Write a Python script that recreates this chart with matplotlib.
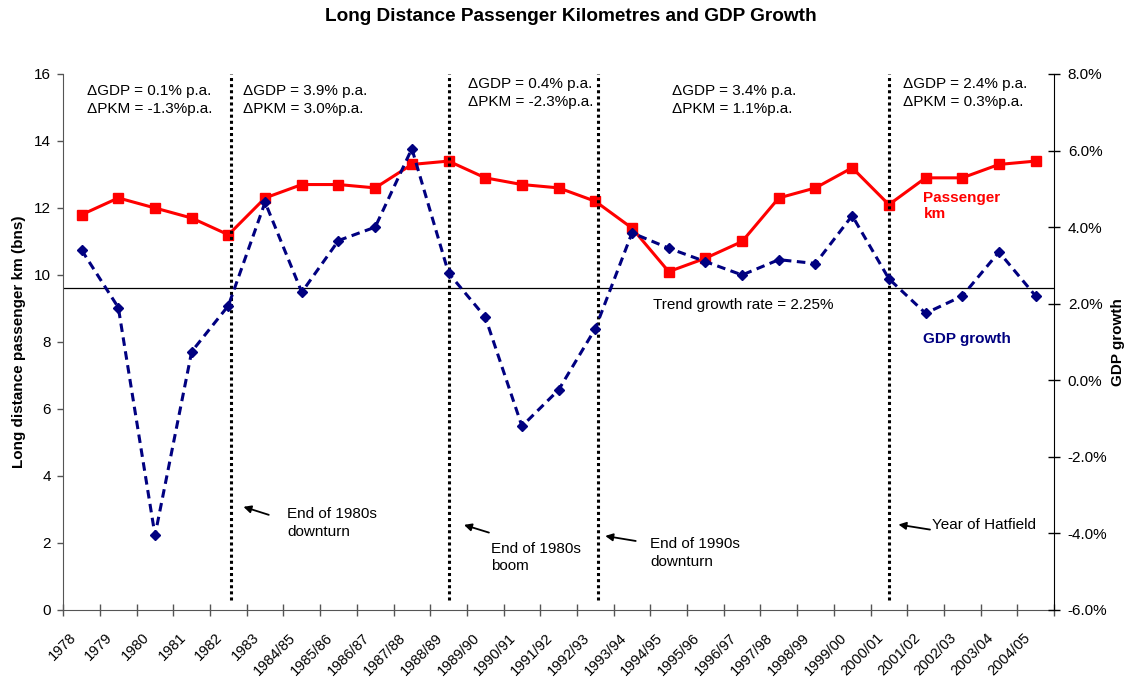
import numpy as np
import matplotlib
matplotlib.use("Agg")
import matplotlib.pyplot as plt
import matplotlib.transforms as mtransforms
from matplotlib.ticker import FuncFormatter

plt.rcParams['font.family'] = ['Liberation Sans', 'DejaVu Sans']

# data
years = ["1978", "1979", "1980", "1981", "1982", "1983", "1984/85", "1985/86",
         "1986/87", "1987/88", "1988/89", "1989/90", "1990/91", "1991/92",
         "1992/93", "1993/94", "1994/95", "1995/96", "1996/97", "1997/98",
         "1998/99", "1999/00", "2000/01", "2001/02", "2002/03", "2003/04",
         "2004/05"]
# long distance passenger km (bns), left axis
pkm = [11.8, 12.3, 12.0, 11.7, 11.2, 12.3, 12.7, 12.7, 12.6, 13.3, 13.4, 12.9,
       12.7, 12.6, 12.2, 11.4, 10.1, 10.5, 11.0, 12.3, 12.6, 13.2, 12.1, 12.9,
       12.9, 13.3, 13.4]
# GDP growth (%), right axis
gdp = [3.4, 1.9, -4.05, 0.75, 1.95, 4.65, 2.3, 3.65, 4.0, 6.05, 2.8, 1.65,
       -1.2, -0.25, 1.35, 3.85, 3.45, 3.1, 2.75, 3.15, 3.05, 4.3, 2.65, 1.75,
       2.2, 3.35, 2.2]

trend_level = 9.6          # drawn trend line (left axis units)
breaks = [4.07, 10.0, 14.07, 22.0]
period_text = [("ΔGDP = 0.1% p.a.", "ΔPKM = -1.3%p.a."),
               ("ΔGDP = 3.9% p.a.", "ΔPKM = 3.0%p.a."),
               ("ΔGDP = 0.4% p.a.", "ΔPKM = -2.3%p.a."),
               ("ΔGDP = 3.4% p.a.", "ΔPKM = 1.1%p.a."),
               ("ΔGDP = 2.4% p.a.", "ΔPKM = 0.3%p.a.")]
period_x = [0.14, 4.39, 10.53, 16.1, 22.39]
period_y = [15.22, 15.22, 15.43, 15.22, 15.43]

notes = ["End of 1980s\ndownturn", "End of 1980s\nboom",
         "End of 1990s\ndownturn", "Year of Hatfield"]
note_head = [(4.41, 3.08), (10.42, 2.54), (14.27, 2.21), (22.26, 2.55)]
note_tail = [(5.1, 2.84), (11.1, 2.31), (15.1, 2.06), (23.12, 2.40)]
note_pos = [(5.6, 2.6), (11.17, 1.57), (15.5, 1.70), (23.17, 2.53)]

x = np.arange(len(years))

fig = plt.figure(figsize=(11.32, 6.77), dpi=100)
ax = fig.add_axes([0.0559, 0.0990, 0.8752, 0.7917])
ax2 = ax.twinx()

ax.plot(x, pkm, color='#FF0000', lw=2.2, marker='s', ms=6.5, zorder=3)
ax2.plot(x, gdp, color='#000080', lw=2.2, ls=(0, (2.8, 1.8)), marker='D',
         ms=5, zorder=3)

ax.axhline(trend_level, color='black', lw=0.9, zorder=2)
ax.vlines(breaks, 0.3, 16, colors='black', lw=2.2, linestyles=(0, (1, 1)),
          zorder=4)

ax.set_xlim(-0.5, len(years) - 0.5)
ax.set_ylim(0, 16)
ax.set_yticks(np.arange(0, 17, 2))
ax2.set_ylim(-6, 8)
ax2.set_yticks(np.arange(-6, 9, 2))
ax2.yaxis.set_major_formatter(FuncFormatter(lambda v, p: f"{v:.1f}%"))

ax.set_xticks(x)
ax.set_xticklabels(years, rotation=45, ha='right', va='center',
                   rotation_mode='anchor', fontsize=10.5)
ax.set_xticks(np.arange(-0.5, len(years), 1), minor=True)
ax.tick_params(axis='x', which='major', length=0, pad=18.4)
ax.tick_params(axis='x', which='minor', direction='inout', length=8,
               width=1, color='#555555')
shift = mtransforms.ScaledTranslation(-0.08, 0, fig.dpi_scale_trans)
for lbl in ax.get_xticklabels():
    lbl.set_transform(lbl.get_transform() + shift)

ax.tick_params(axis='y', direction='out', length=4.5, width=1,
               color='#555555', labelsize=11, pad=4.3)
ax2.tick_params(axis='y', direction='inout', length=9, width=1,
                labelsize=11, pad=5.4)

for a in (ax, ax2):
    a.spines['top'].set_visible(False)
ax.spines['left'].set_color('#555555')
ax.spines['bottom'].set_color('#555555')
ax.spines['right'].set_visible(False)
ax2.spines['left'].set_visible(False)
ax2.spines['bottom'].set_visible(False)
ax2.spines['right'].set_color('black')

for (l1, l2), px, py in zip(period_text, period_x, period_y):
    ax.text(px, py, l1 + "\n" + l2, fontsize=11, ha='left', va='center',
            linespacing=1.3, zorder=5)

for txt, head, tail, pos in zip(notes, note_head, note_tail, note_pos):
    ax.annotate("", xy=head, xytext=tail,
                arrowprops=dict(arrowstyle='-|>', color='black', lw=1.3,
                                mutation_scale=11, shrinkA=0, shrinkB=0))
    ax.text(pos[0], pos[1], txt, fontsize=11, ha='left', va='center',
            linespacing=1.3)

ax.text(15.57, 9.6 - 0.5, "Trend growth rate = 2.25%", fontsize=11,
        ha='left', va='center')
ax.text(22.94, 12.05, "Passenger\nkm", fontsize=11, fontweight='bold',
        color='#FF0000', ha='left', va='center', linespacing=1.2)
ax.text(22.94, 8.08, "GDP growth", fontsize=11, fontweight='bold',
        color='#000080', ha='left', va='center')

fig.text(0.504, 0.975, "Long Distance Passenger Kilometres and GDP Growth",
         fontsize=13.7, fontweight='bold', ha='center', va='center')
fig.text(19 / 1132, 1 - 342 / 677, "Long distance passenger km (bns)",
         fontsize=11, fontweight='bold', rotation=90, ha='center', va='center')
fig.text(1118 / 1132, 1 - 342 / 677, "GDP growth", fontsize=11,
         fontweight='bold', rotation=90, ha='center', va='center')

fig.savefig("out.png", dpi=100)
